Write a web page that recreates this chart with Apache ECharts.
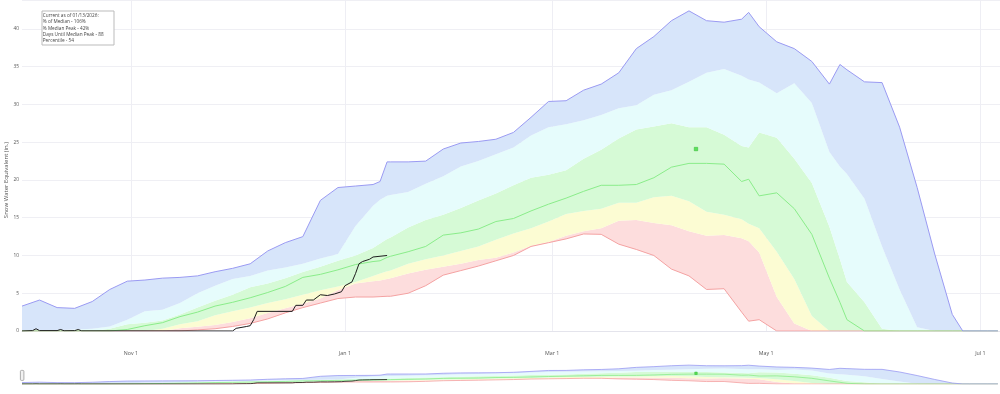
<!DOCTYPE html>
<html>
<head>
<meta charset="utf-8">
<script src="https://cdn.jsdelivr.net/npm/echarts@6/dist/echarts.min.js"></script>
<style>
html,body{margin:0;padding:0;background:#fff;}
#chart{width:1000px;height:394px;}
</style>
</head>
<body>
<div id="chart"></div>
<script>
// ---------------- DATA ----------------
const dates = ['2025-10-01','2025-10-06','2025-10-11','2025-10-16','2025-10-21','2025-10-26','2025-10-31','2025-11-05','2025-11-10','2025-11-15',
'2025-11-20','2025-11-25','2025-11-30','2025-12-05','2025-12-10','2025-12-15','2025-12-20','2025-12-25','2025-12-30','2026-01-04',
'2026-01-09','2026-01-11','2026-01-13','2026-01-14','2026-01-19','2026-01-24','2026-01-29','2026-02-03','2026-02-08','2026-02-13',
'2026-02-18','2026-02-23','2026-02-28','2026-03-05','2026-03-10','2026-03-15','2026-03-20','2026-03-25','2026-03-30','2026-04-04',
'2026-04-09','2026-04-14','2026-04-19','2026-04-24','2026-04-26','2026-04-29','2026-05-04','2026-05-09','2026-05-14','2026-05-19',
'2026-05-22','2026-05-24','2026-05-29','2026-06-03','2026-06-08','2026-06-13','2026-06-18','2026-06-23','2026-06-26','2026-06-28',
'2026-07-03','2026-07-06'];

const maxVals = [3.3,4.1,3.1,3.0,3.9,5.5,6.6,6.75,7.0,7.1,
7.3,7.85,8.3,8.9,10.6,11.7,12.5,17.3,19.0,19.2,
19.4,19.8,22.4,22.4,22.4,22.5,24.1,24.9,25.1,25.4,
26.3,28.3,30.4,30.5,31.9,32.7,34.2,37.4,39.0,41.1,
42.4,41.1,40.9,41.3,42.2,40.3,38.3,37.4,35.7,32.7,
35.3,34.6,33.0,32.9,27.0,19.0,10.2,2.2,0,0,
0,0];

const p90Vals = [0,0.05,0.1,0.2,0.3,0.6,1.5,2.6,2.8,3.7,
5.0,6.0,6.9,7.3,8.0,8.4,8.9,9.6,10.2,13.9,
16.6,17.4,17.9,18.0,18.4,19.5,20.5,21.8,22.5,23.4,
24.3,25.9,27.0,27.4,27.9,28.6,29.5,29.9,31.3,31.9,
33.0,34.2,34.7,33.8,33.3,32.9,31.5,32.8,30.2,23.7,
21.8,20.8,17.5,11.2,5.5,0.5,0,0,0,0,
0,0];

const p70Vals = [0,0,0,0,0,0.3,0.9,1.1,1.4,2.2,
3.1,4.0,4.8,5.8,6.3,7.0,7.8,8.5,9.3,10.0,
11.0,11.6,12.2,12.4,13.7,14.7,15.4,16.3,17.3,18.2,
19.3,20.3,20.7,21.3,22.8,24.0,25.5,26.7,27.1,27.5,
27.0,27.0,26.0,24.5,24.3,26.3,25.6,22.8,19.6,13.8,
9.5,6.5,3.8,0.3,0,0,0,0,0,0,
0,0];

const medianVals = [0,0,0,0,0,0,0.2,0.7,1.1,1.9,
2.5,3.3,3.8,4.4,5.1,5.9,7.1,7.5,8.1,8.8,
9.2,9.3,9.75,9.9,10.5,11.2,12.7,13.0,13.5,14.5,
14.9,15.9,16.8,17.6,18.5,19.3,19.3,19.4,20.3,21.7,
22.2,22.2,22.1,19.8,20.1,17.9,18.3,16.2,12.8,7.0,
3.8,1.5,0,0,0,0,0,0,0,0,
0,0];

const p30Vals = [0,0,0,0,0,0,0,0,0.3,0.9,
1.3,2.1,2.6,3.1,3.7,4.2,4.8,5.4,5.9,6.5,
7.3,7.6,7.9,8.0,8.9,9.5,10.0,10.6,11.2,12.1,
12.9,13.6,14.5,15.5,15.9,16.2,17.0,17.0,17.7,17.9,
17.2,15.8,15.4,14.8,14.2,13.6,10.5,6.9,2.0,0,
0,0,0,0,0,0,0,0,0,0,
0,0];

const p10Vals = [0,0,0,0,0,0,0,0,0,0.35,
0.55,0.8,1.2,1.7,2.4,3.0,3.6,4.3,5.4,6.3,
6.6,6.7,6.9,7.0,7.6,8.1,8.5,8.9,9.4,9.7,
10.4,11.3,11.8,12.6,13.2,13.6,14.6,14.7,14.3,14.0,
13.2,12.6,12.7,12.3,11.9,10.4,4.5,1.0,0,0,
0,0,0,0,0,0,0,0,0,0,
0,0];

const minVals = [0,0,0,0,0,0,0,0,0,0,
0.15,0.3,0.6,1.0,1.6,2.4,3.1,3.7,4.3,4.5,
4.5,4.55,4.6,4.6,5.0,6.0,7.4,8.0,8.6,9.3,
10.0,11.2,11.7,12.2,12.85,12.8,11.5,10.8,10.0,8.2,
7.3,5.5,5.6,2.5,1.3,1.5,0,0,0,0,
0,0,0,0,0,0,0,0,0,0,
0,0];

const currentDates = ['2025-10-01','2025-10-04','2025-10-05','2025-10-06','2025-10-11','2025-10-12','2025-10-13','2025-10-16','2025-10-17','2025-10-18',
'2025-11-30','2025-12-01','2025-12-04','2025-12-05','2025-12-06','2025-12-07','2025-12-17','2025-12-18','2025-12-20','2025-12-21',
'2025-12-23','2025-12-25','2025-12-27','2025-12-29','2025-12-31','2026-01-01','2026-01-03','2026-01-04','2026-01-05','2026-01-06',
'2026-01-08','2026-01-09','2026-01-13'];
const currentVals = [0,0.05,0.3,0.05,0.05,0.2,0.03,0.05,0.2,0.02,
0,0.35,0.6,0.7,1.5,2.6,2.6,3.4,3.4,4.1,
4.1,4.8,4.7,4.9,5.2,6.0,6.5,7.6,8.9,9.2,
9.5,9.8,10.0];

const medianPeak = {date:'2026-04-11', value:24.1};

const yTicks = {min:0, interval:5};
const xTickDates = ['2025-11-01','2026-01-01','2026-03-01','2026-05-01','2026-07-01'];
const xTickLabels = ['Nov 1','Jan 1','Mar 1','May 1','Jul 1'];
const infoLines = ['Current as of 01/13/2026:','% of Median - 106%','% Median Peak - 42%','Days Until Median Peak - 88','Percentile - 54'];
const yTitle = 'Snow Water Equivalent (in.)';

// ---------------- BUILD ----------------
const T = s => Date.UTC(+s.slice(0,4), +s.slice(5,7)-1, +s.slice(8,10));
const xs = dates.map(T);
const pts = arr => arr.map((v,i)=>[xs[i], v]);
const diff = (a,b) => a.map((v,i)=>[xs[i], Math.max(0, v - b[i])]);
const tickXs = xTickDates.map(T);

const C = {
  blue:'#d7e5fa', cyan:'#e6fcfc', green:'#d6fad6', yellow:'#fcfcd3', pink:'#fddddd',
  maxLine:'#9a9af2', medLine:'#8aec8a', minLine:'#f4a2a2', cur:'#1c1c1c', peak:'#3cdc3c'
};

// xAxisIndex: 0 = main time axis (hidden), 1 = main label axis, 2 = mini time axis
function bandSeries(xi, yi, lw, mini){
  const base = {type:'line', xAxisIndex:xi, yAxisIndex:yi, showSymbol:false, symbol:'none', silent:true,
    stack:'band'+xi, z:2, lineStyle:{width:0, opacity:0}};
  const s = [];
  s.push(Object.assign({}, base, {data: pts(minVals)}));
  s.push(Object.assign({}, base, {data: diff(p10Vals,minVals), areaStyle:{color:C.pink, opacity:1}}));
  s.push(Object.assign({}, base, {data: diff(p30Vals,p10Vals), areaStyle:{color:C.yellow, opacity:1}}));
  s.push(Object.assign({}, base, {data: diff(p70Vals,p30Vals), areaStyle:{color:C.green, opacity:1}}));
  s.push(Object.assign({}, base, {data: diff(p90Vals,p70Vals), areaStyle:{color:C.cyan, opacity:1}}));
  s.push(Object.assign({}, base, {data: diff(maxVals,p90Vals), areaStyle:{color:C.blue, opacity:1}}));
  const line = (data,color,w,z) => ({type:'line', xAxisIndex:xi, yAxisIndex:yi, showSymbol:false, symbol:'none', silent:true, z:z, data:data, lineStyle:{color:color, width:w}});
  s.push(line(pts(minVals), C.minLine, lw, 3));
  s.push(line(pts(medianVals), C.medLine, lw, 4));
  s.push(line(pts(maxVals), C.maxLine, lw, 5));
  s.push(line(currentDates.map((d,i)=>[T(d), currentVals[i]]), C.cur, lw, 6));
  s.push({type:'scatter', xAxisIndex:xi, yAxisIndex:yi, silent:true, z:7, symbol:'rect', symbolSize: mini?2.5:3.5,
    itemStyle:{color:C.peak, borderColor:'#22aa22', borderWidth:0.5}, data:[[T(medianPeak.date), medianPeak.value]]});
  return s;
}

const xMin = T('2025-10-01');
const xMax = T('2026-07-06') + 0.6*864e5;
const yMax = 43.84;

const chart = echarts.init(document.getElementById('chart'), null, {renderer:'canvas'});
chart.setOption({
  animation:false,
  backgroundColor:'#fff',
  textStyle:{fontFamily:'"Open Sans", sans-serif'},
  grid:[
    {left:22, right:0, top:0, height:331, containLabel:false, outerBoundsMode:'none'},
    {left:22, right:0, top:364.5, height:19.5, containLabel:false, outerBoundsMode:'none'}
  ],
  xAxis:[
    {type:'time', gridIndex:0, min:xMin, max:xMax, show:false, position:'bottom'},
    {type:'value', gridIndex:0, min:xMin, max:xMax, position:'bottom',
     axisLine:{show:true, onZero:false, lineStyle:{color:'#e4e4ec', width:1}},
     axisTick:{show:false, customValues: tickXs},
     axisLabel:{customValues: tickXs, margin:20, fontSize:5.3, color:'#555',
       formatter: v => { const i = tickXs.indexOf(v); return i>=0 ? xTickLabels[i] : ''; }},
     splitLine:{show:true, lineStyle:{color:'#eeeef4', width:1}}},
    {type:'time', gridIndex:1, min:xMin, max:xMax, show:false}
  ],
  yAxis:[
    {type:'value', gridIndex:0, min:yTicks.min, max:yMax, interval:yTicks.interval,
     axisLine:{show:false}, axisTick:{show:false},
     axisLabel:{fontSize:4.8, color:'#555', margin:3, showMaxLabel:false},
     splitLine:{lineStyle:{color:'#efeff4', width:1}}},
    {type:'value', gridIndex:1, min:0, max:yMax, show:false, splitLine:{show:false}}
  ],
  graphic:[
    {type:'rect', left:41.5, top:10.5, shape:{width:72, height:34}, style:{fill:'#fff', stroke:'#bbbbbb', lineWidth:1}, z:100},
    {type:'text', left:42.8, top:12.2, z:101, style:{text:infoLines.join('\n'), font:'4.7px "Open Sans"', fill:'#444', lineHeight:6.4}},
    {type:'text', x:6, y:180, rotation:Math.PI/2, z:101, style:{text:yTitle, font:'6px "Open Sans"', fill:'#555', align:'center', verticalAlign:'middle'}},
    {type:'rect', left:20, top:370, shape:{width:3.5, height:10, r:1}, style:{fill:'#f2f2f2', stroke:'#999', lineWidth:0.8}, z:100}
  ],
  series: bandSeries(0, 0, 1, false).concat(bandSeries(2, 1, 0.8, true))
});
</script>
</body>
</html>
